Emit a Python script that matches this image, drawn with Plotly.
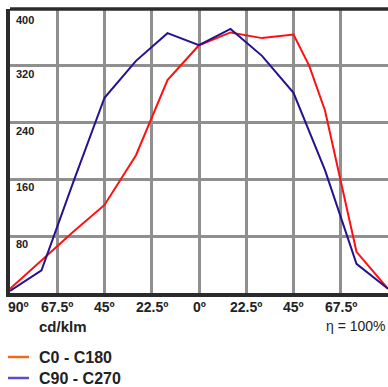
import plotly.graph_objects as go

# photometric curve, cd/klm by angle
angles = [-90, -75, -60, -45, -30, -15, 0, 15, 30, 45, 52.5, 60, 75, 90]
c0_c180 = [6, 46, 86, 124, 194, 300, 349, 367, 359, 364, 320, 257, 58, 6]
angles_c90 = [-90, -75, -60, -45, -30, -15, 0, 15, 30, 45, 60, 75, 90]
c90_c270 = [3, 32, 155, 275, 327, 366, 349, 372, 334, 282, 173, 41, 6]

x_ticks = [-90, -67.5, -45, -22.5, 0, 22.5, 45, 67.5]
x_labels = ["90º", "67.5º", "45º", "22.5º", "0º", "22.5º", "45º", "67.5º"]
y_ticks = [80, 160, 240, 320, 400]

bold_font = "Liberation Sans Narrow, Liberation Sans, Arial, sans-serif"

fig = go.Figure()
fig.add_trace(go.Scatter(x=angles, y=c0_c180, mode="lines",
                         line=dict(color="#ff1010", width=2), showlegend=False))
fig.add_trace(go.Scatter(x=angles_c90, y=c90_c270, mode="lines",
                         line=dict(color="#22148f", width=2), showlegend=False))

ann = []
for v, t in zip(x_ticks, x_labels):
    ann.append(dict(x=v, y=0, xref="x", yref="paper", text="<b>" + t + "</b>",
                    showarrow=False, yanchor="middle", yshift=-14,
                    xshift=8 if v == -90 else 0,
                    font=dict(family=bold_font, size=14, color="#222")))
for v in y_ticks:
    ann.append(dict(x=0, y=v, xref="paper", yref="y", text="<b>" + str(v) + "</b>",
                    showarrow=False, xanchor="left", yanchor="middle", xshift=4,
                    yshift=-11 if v == 400 else -8,
                    font=dict(family=bold_font, size=11, color="#222")))
ann.append(dict(x=27 / 378, y=0, xref="paper", yref="paper", text="<b>cd/klm</b>",
                showarrow=False, xanchor="left", yanchor="middle", yshift=-33,
                font=dict(family=bold_font, size=15, color="#222")))
ann.append(dict(x=1, y=0, xref="paper", yref="paper", text="η = 100%",
                showarrow=False, xanchor="right", yanchor="middle", yshift=-33,
                font=dict(family="Liberation Sans, Arial, sans-serif", size=14, color="#222")))

# legend drawn by hand (swatch colours differ from the curves)
legend_items = [("C0 - C180", "#f26a21", -64), ("C90 - C270", "#5a4fc8", -85)]
shapes = [dict(type="line", xref="paper", yref="paper", x0=0, x1=1, y0=1, y1=1,
               line=dict(color="#2b2b2b", width=3.5))]
for name, col, off in legend_items:
    yp = off / 284
    shapes.append(dict(type="line", xref="paper", yref="paper", x0=-2 / 378, x1=19 / 378,
                       y0=yp, y1=yp, line=dict(color=col, width=2.5)))
    ann.append(dict(x=27 / 378, y=yp, xref="paper", yref="paper", text="<b>" + name + "</b>",
                    showarrow=False, xanchor="left", yanchor="middle",
                    font=dict(family=bold_font, size=16, color="#222")))

fig.update_layout(
    width=388, height=387,
    margin=dict(l=10, r=0, t=9, b=94),
    paper_bgcolor="white", plot_bgcolor="white",
    showlegend=False,
    annotations=ann, shapes=shapes,
    xaxis=dict(range=[-90, 90], tickvals=x_ticks[1:], showticklabels=False,
               showgrid=True, gridcolor="#8f8f8f", gridwidth=2.5, zeroline=False,
               showline=True, linecolor="#2b2b2b", linewidth=4, fixedrange=True),
    yaxis=dict(range=[0, 400], tickvals=y_ticks[:-1], showticklabels=False,
               showgrid=True, gridcolor="#8f8f8f", gridwidth=2.5, zeroline=False,
               showline=True, linecolor="#2b2b2b", linewidth=4, fixedrange=True),
)

fig.write_html("out.html", config={"displayModeBar": False},
               post_script="document.body.style.margin='0';")
